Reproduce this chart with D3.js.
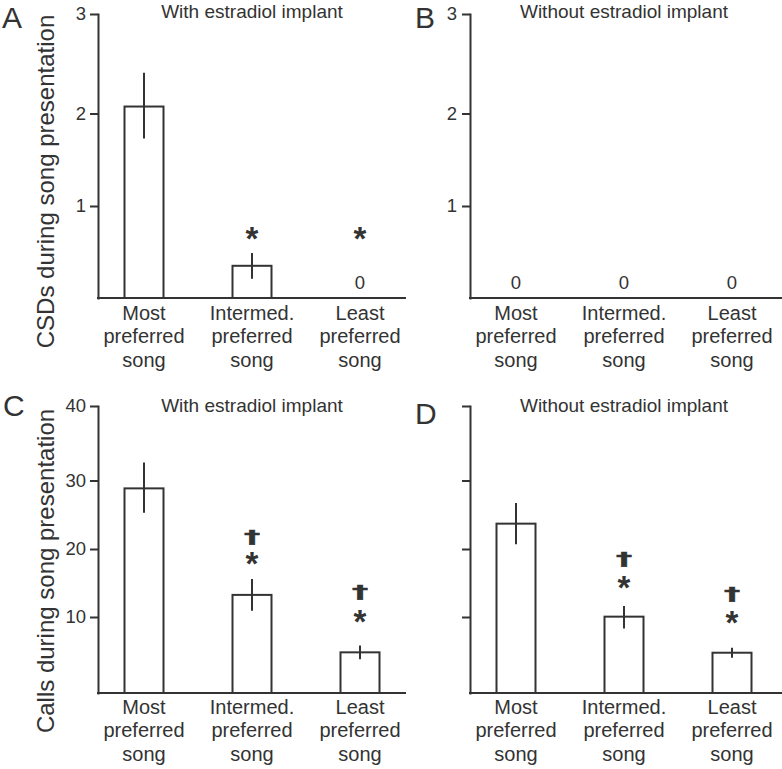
<!DOCTYPE html>
<html><head><meta charset="utf-8">
<script src="https://cdn.jsdelivr.net/npm/d3@7"></script>
<style>
body{margin:0;background:#fff}
svg{display:block}
</style>
</head><body>
<svg id="c" width="782" height="769"></svg>
<script>
// ---------- data ----------
const categories = ["Most preferred song", "Intermed. preferred song", "Least preferred song"];
const categoryLines = [["Most", "preferred", "song"], ["Intermed.", "preferred", "song"], ["Least", "preferred", "song"]];

const csdWithMean = [2.07, 0.35, 0];
const csdWithSem = [0.34, 0.14, 0];
const csdWithoutMean = [0, 0, 0];
const csdWithoutSem = [0, 0, 0];

const callsWithMean = [28.85, 13.25, 5.35];
const callsWithSem = [3.55, 2.33, 0.9];
const callsWithoutMean = [23.7, 10.05, 5.3];
const callsWithoutSem = [3.0, 1.55, 0.65];

const csdTicks = [1, 2, 3];
const callTicks = [10, 20, 30, 40];

// significance marks and their heights (in data units)
const csdWithStarLevel = [null, 0.72, 0.72];
const csdWithDaggerLevel = [null, null, null];
const csdWithoutStarLevel = [null, null, null];
const csdWithoutDaggerLevel = [null, null, null];
const callsWithStarLevel = [null, 18.87, 10.3];
const callsWithDaggerLevel = [null, 21.7, 13.5];
const callsWithoutStarLevel = [null, 15.4, 10.15];
const callsWithoutDaggerLevel = [null, 18.4, 13.2];

const panelLetters = ["A", "B", "C", "D"];
const panelTitles = ["With estradiol implant", "Without estradiol implant", "With estradiol implant", "Without estradiol implant"];
const yTitles = ["CSDs during song presentation", "Calls during song presentation"];

// ---------- drawing ----------
const FONT = '"Liberation Sans", Arial, Helvetica, sans-serif';
const INK = "#333";
const svg = d3.select("#c");

function panel(o) {
  const g = svg.append("g");
  const y = d3.scaleLinear().domain(o.yDomain).range(o.yRange);
  const x = d3.scalePoint().domain(categories).range([o.ax + 46, o.ax + 262]);
  const base = y(0);

  // y axis
  const axis = d3.axisLeft(y).tickValues(o.ticks).tickSize(8).tickSizeOuter(0)
    .tickPadding(o.pad).tickFormat(o.tickLabels ? d3.format("d") : () => "");
  const ga = g.append("g").attr("transform", `translate(${o.ax},0)`).call(axis)
    .attr("font-family", FONT).attr("font-size", 18.5);
  ga.select(".domain").attr("stroke", INK).attr("stroke-width", 2).attr("stroke-linecap", "square");
  ga.selectAll(".tick line").attr("stroke", INK).attr("stroke-width", 2);
  ga.selectAll(".tick text").attr("fill", INK);

  // x axis baseline
  g.append("line").attr("x1", o.ax).attr("x2", o.xEnd).attr("y1", base).attr("y2", base)
    .attr("stroke", INK).attr("stroke-width", 2).attr("stroke-linecap", "square");

  const rows = categories.map((c, i) => ({c, m: o.mean[i], s: o.sem[i], star: o.star[i], dag: o.dag[i]}));

  // bars
  g.selectAll("rect.bar").data(rows.filter(d => d.m > 0)).join("rect")
    .attr("x", d => x(d.c) - 19.5).attr("width", 39)
    .attr("y", d => y(d.m)).attr("height", d => base - y(d.m))
    .attr("fill", "#fff").attr("stroke", INK).attr("stroke-width", 2);

  // error bars
  g.selectAll("line.err").data(rows.filter(d => d.s > 0)).join("line")
    .attr("x1", d => x(d.c)).attr("x2", d => x(d.c))
    .attr("y1", d => y(d.m + d.s)).attr("y2", d => y(d.m - d.s))
    .attr("stroke", INK).attr("stroke-width", 2);

  // zero labels
  g.selectAll("text.zero").data(rows.filter(d => d.m === 0)).join("text")
    .attr("x", d => x(d.c)).attr("y", base - 9).attr("text-anchor", "middle")
    .attr("font-family", FONT).attr("font-size", 18.5).attr("fill", INK).text("0");

  // asterisks
  g.selectAll("text.star").data(rows.filter(d => d.star != null)).join("text")
    .attr("x", d => x(d.c)).attr("y", d => y(d.star) + 18.5).attr("text-anchor", "middle")
    .attr("font-family", FONT).attr("font-weight", "bold").attr("font-size", 33).attr("fill", INK).text("*");

  // daggers
  g.selectAll("text.dag").data(rows.filter(d => d.dag != null)).join("text")
    .attr("transform", d => `translate(${x(d.c)},${y(d.dag)}) scale(1.25,0.7)`)
    .attr("y", 7.5).attr("text-anchor", "middle")
    .attr("font-family", '"DejaVu Sans", sans-serif').attr("font-weight", "bold").attr("font-size", 26)
    .attr("fill", INK).attr("stroke", INK).attr("stroke-width", 0.6).text("\u2020");

  // category labels
  const lab = g.selectAll("text.cat").data(categories).join("text")
    .attr("text-anchor", "middle").attr("font-family", FONT).attr("font-size", 20).attr("fill", INK);
  lab.each(function (c, i) {
    const t = d3.select(this);
    categoryLines[i].forEach((ln, k) => {
      t.append("tspan").attr("x", x(c)).attr("y", base + o.labOff + k * 23.5).text(ln);
    });
  });

  // title
  g.append("text").attr("x", x(categories[1])).attr("y", o.titleY).attr("text-anchor", "middle")
    .attr("font-family", FONT).attr("font-size", 19).attr("fill", INK).text(o.title);

  // panel letter
  g.append("text").attr("x", o.letterX).attr("y", o.letterY)
    .attr("font-family", FONT).attr("font-size", 30).attr("fill", INK).text(o.letter);

  // y title
  if (o.yTitle) {
    g.append("text").attr("transform", `translate(54,${o.yTitleY}) rotate(-90)`)
      .attr("text-anchor", "middle").attr("font-family", FONT).attr("font-size", 24).attr("fill", INK)
      .text(o.yTitle);
  }
}

const csdDomain = [0, 1, 2, 3], csdRange = [298, 206, 113.5, 14];
const callDomain = [0, 10, 20, 30, 40], callRange = [693, 617, 549, 480.5, 406];

panel({ax: 98, xEnd: 405, yDomain: csdDomain, yRange: csdRange, ticks: csdTicks, tickLabels: true, pad: 4,
  mean: csdWithMean, sem: csdWithSem, star: csdWithStarLevel, dag: csdWithDaggerLevel,
  labOff: 21.5, title: panelTitles[0], titleY: 18, letter: panelLetters[0], letterX: 2, letterY: 28,
  yTitle: yTitles[0], yTitleY: 181.5});
panel({ax: 470, xEnd: 782, yDomain: csdDomain, yRange: csdRange, ticks: csdTicks, tickLabels: true, pad: 5,
  mean: csdWithoutMean, sem: csdWithoutSem, star: csdWithoutStarLevel, dag: csdWithoutDaggerLevel,
  labOff: 21.5, title: panelTitles[1], titleY: 18, letter: panelLetters[1], letterX: 415, letterY: 28});
panel({ax: 98, xEnd: 405, yDomain: callDomain, yRange: callRange, ticks: callTicks, tickLabels: true, pad: 4,
  mean: callsWithMean, sem: callsWithSem, star: callsWithStarLevel, dag: callsWithDaggerLevel,
  labOff: 20.5, title: panelTitles[2], titleY: 412, letter: panelLetters[2], letterX: 3, letterY: 416,
  yTitle: yTitles[1], yTitleY: 571});
panel({ax: 470, xEnd: 782, yDomain: callDomain, yRange: callRange, ticks: callTicks, tickLabels: false, pad: 4,
  mean: callsWithoutMean, sem: callsWithoutSem, star: callsWithoutStarLevel, dag: callsWithoutDaggerLevel,
  labOff: 20.5, title: panelTitles[3], titleY: 412, letter: panelLetters[3], letterX: 415, letterY: 424});
</script>
</body></html>
